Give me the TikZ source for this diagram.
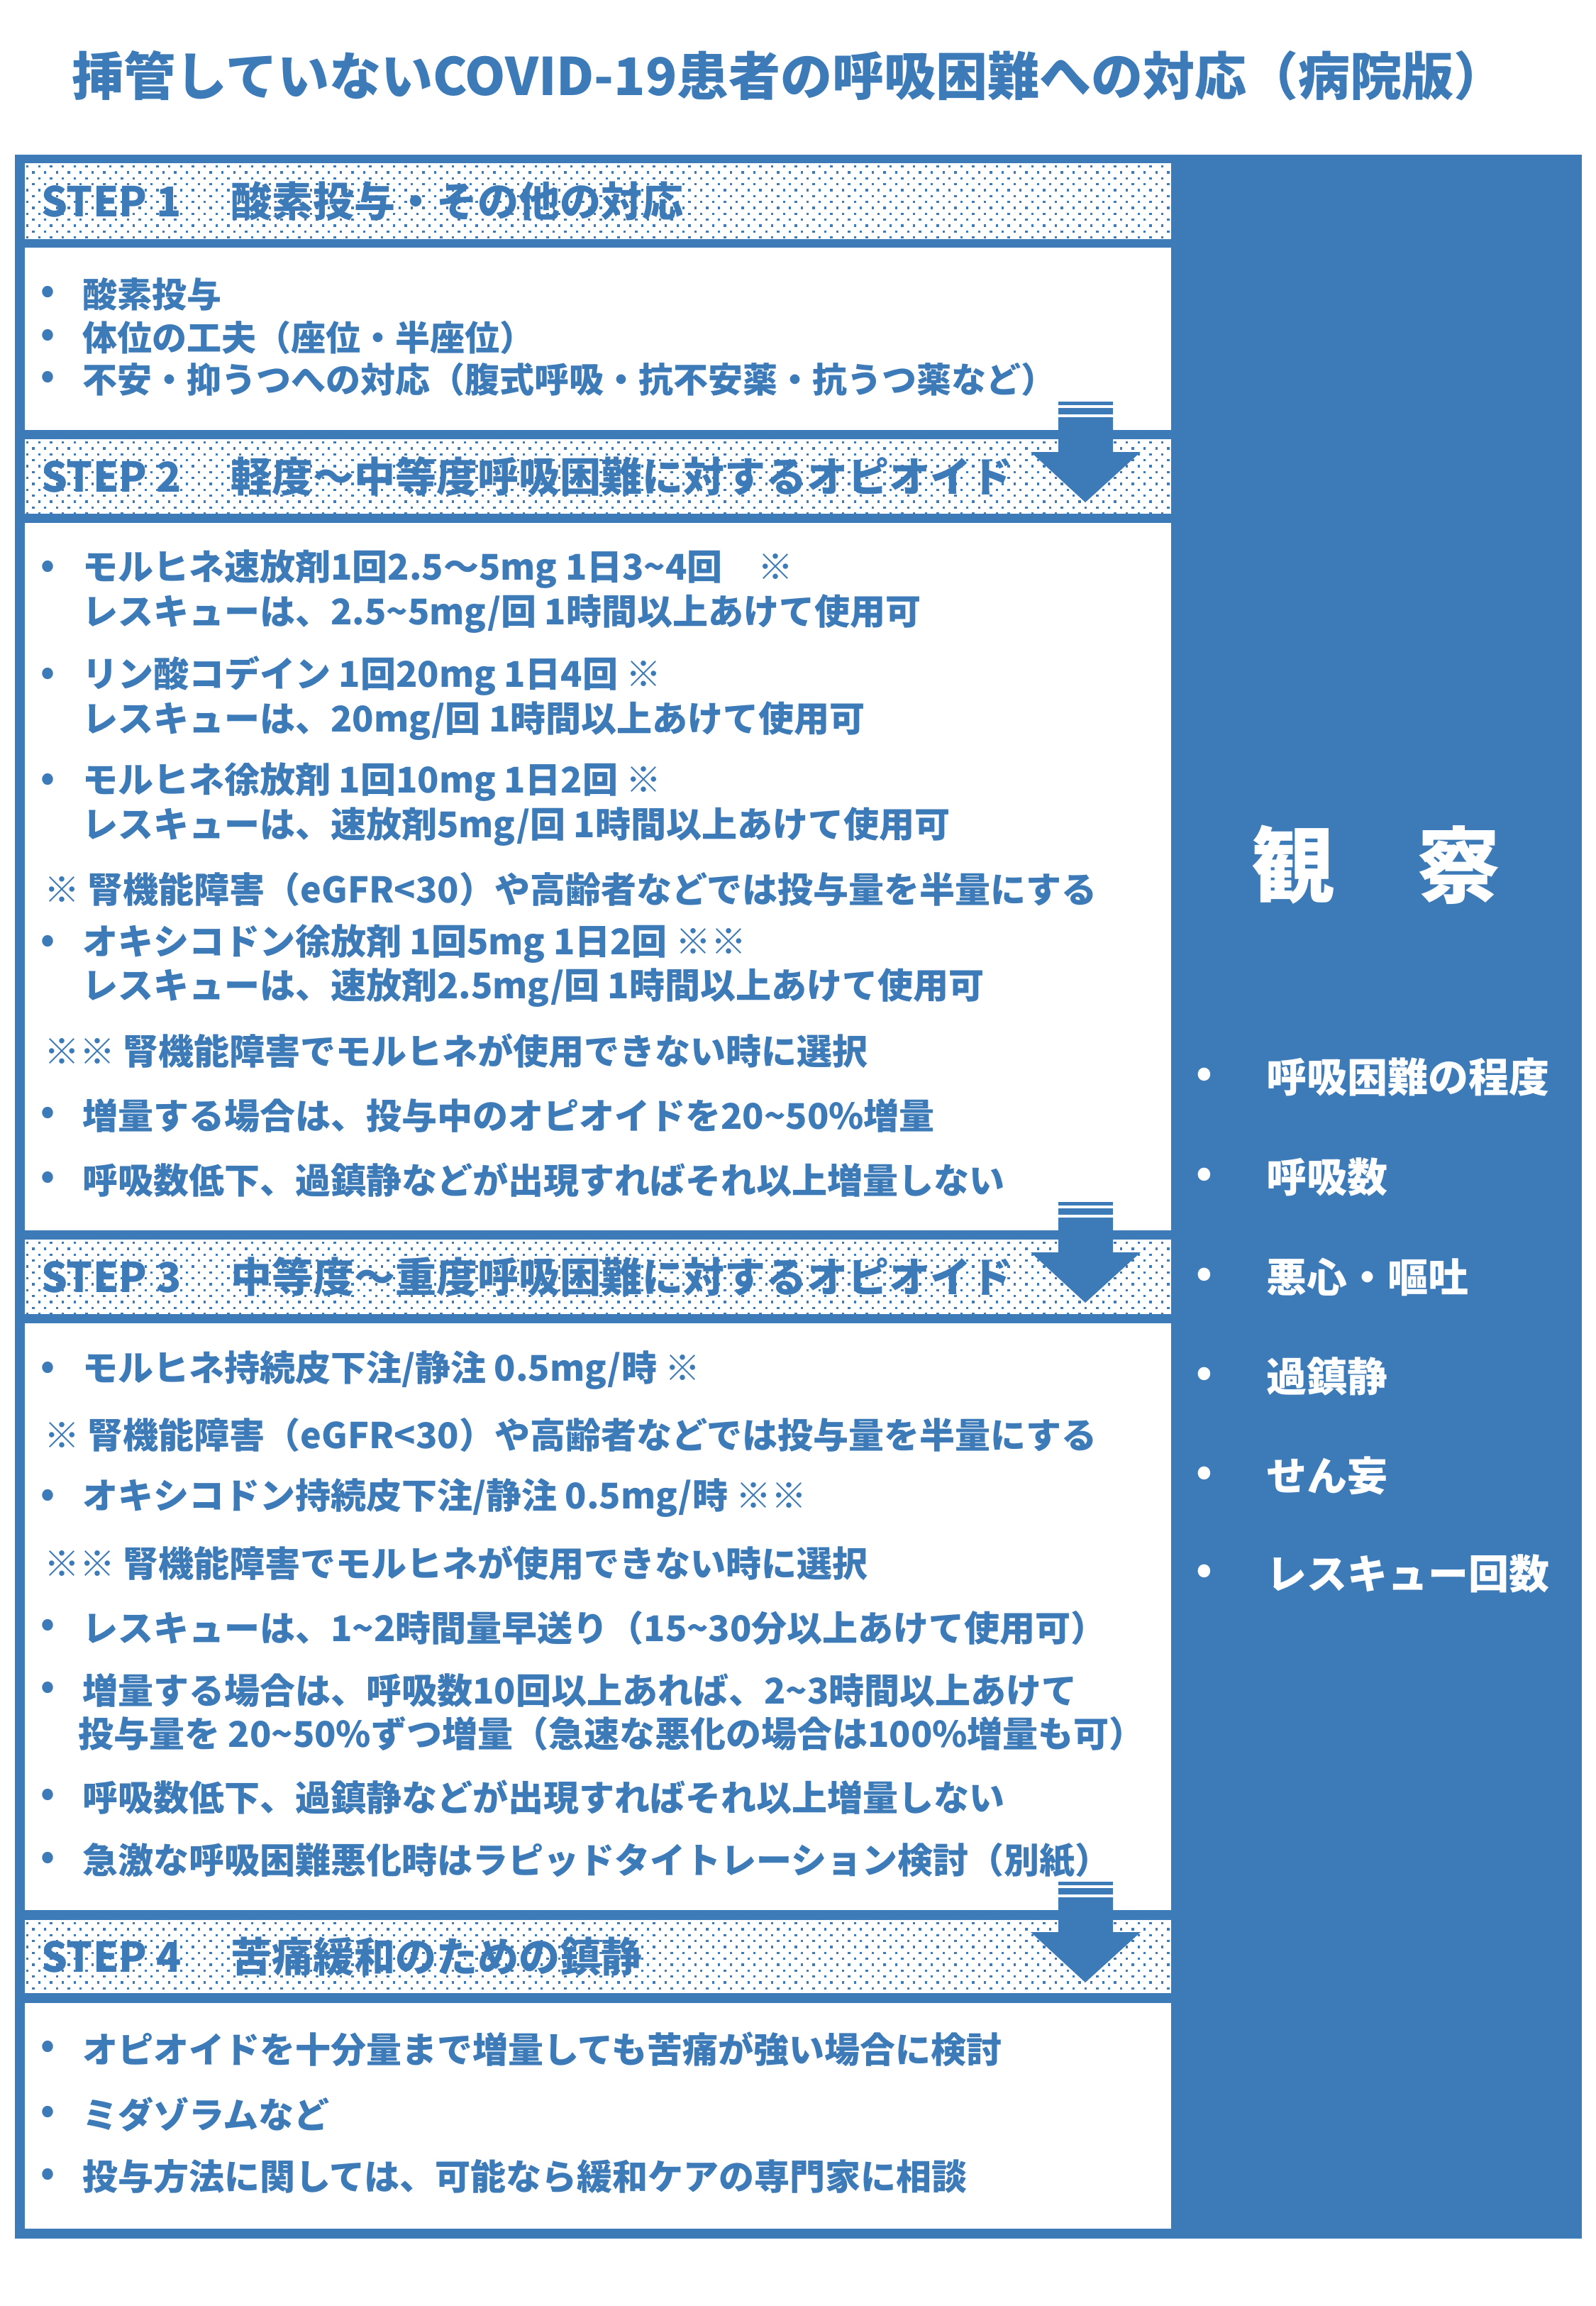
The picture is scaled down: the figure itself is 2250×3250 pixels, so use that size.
\documentclass[tikz,border=0pt]{standalone}
\usepackage{fontspec}
\setmainfont{Noto Sans CJK JP}
\definecolor{bl}{HTML}{3D7AB8}
\newcommand\tld{\char"007E\relax}
\newcommand\dotfield[2]{%
  \begin{scope}
    \clip (35,#1) rectangle (1651,#2);
    \foreach \r in {0,...,13} {
      \pgfmathsetmacro\yy{#1+3+\r*8.333}
      \pgfmathsetmacro\xo{mod(\r,2)*8.333}
      \foreach \c in {0,...,97} {
        \fill[bl] ({37+\xo+\c*16.667},\yy) rectangle ++(3.4,3.4);
      }
    }
  \end{scope}}
\newcommand\steparrow[1]{%
  \fill[bl] (1492,#1-40) rectangle (1569,#1-35);
  \fill[bl] (1492,#1-31) rectangle (1569,#1-22);
  \fill[bl] (1492,#1-18) -- (1569,#1-18) -- (1569,#1+31) -- (1608,#1+31)
     -- (1530,#1+102) -- (1453,#1+31) -- (1492,#1+31) -- cycle;}
\begin{document}
\begin{tikzpicture}[x=1pt,y=-1pt,
  ttl/.style={inner sep=0, text=bl, font=\fontsize{73}{73}\selectfont\bfseries},
  hd/.style={anchor=west, inner sep=0, text=bl, font=\fontsize{58}{58}\selectfont\bfseries},
  tx/.style={anchor=west, inner sep=0, text=bl, font=\fontsize{50}{50}\selectfont\bfseries},
  txa/.style={anchor=west, inner sep=0, text=bl, font=\fontsize{49}{49}\selectfont\bfseries},
  bu/.style={inner sep=0, text=bl, font=\fontsize{50}{50}\selectfont\bfseries},
  obs/.style={inner sep=0, text=white, font=\fontsize{117}{117}\selectfont\bfseries},
  obt/.style={anchor=west, inner sep=0, text=white, font=\fontsize{57}{57}\selectfont\bfseries},
  obb/.style={inner sep=0, text=white, font=\fontsize{57}{57}\selectfont\bfseries}]
\useasboundingbox (0,0) rectangle (2250,3250);
\fill[white] (0,0) rectangle (2250,3250);

% title
\node[ttl] (title) at (1112,107) {挿管していないCOVID-19患者の呼吸困難への対応（病院版）};

% frame
\fill[bl] (21,218) rectangle (2230,3155);
\fill[white] (35,230) rectangle (1651,337);
\fill[white] (35,349) rectangle (1651,606);
\fill[white] (35,619) rectangle (1651,724);
\fill[white] (35,737) rectangle (1651,1734);
\fill[white] (35,1747) rectangle (1651,1852);
\fill[white] (35,1865) rectangle (1651,2692);
\fill[white] (35,2706) rectangle (1651,2809);
\fill[white] (35,2823) rectangle (1651,3141);

\dotfield{230}{337}
\dotfield{619}{724}
\dotfield{1747}{1852}
\dotfield{2706}{2809}

\steparrow{606}
\steparrow{1734}
\steparrow{2692}

% STEP 1
\node[hd] (h1a) at (58,283.5) {STEP 1};
\node[hd] (h1b) at (325,283.5) {酸素投与・その他の対応};
\node[bu] (b1a) at (67,415) {•};
\node[txa] (t1a) at (116,415) {酸素投与};
\node[bu] (b1b) at (67,476) {•};
\node[txa] (t1b) at (116,476) {体位の工夫（座位・半座位）};
\node[bu] (b1c) at (67,535) {•};
\node[txa] (t1c) at (116,535) {不安・抑うつへの対応（腹式呼吸・抗不安薬・抗うつ薬など）};

% STEP 2
\node[hd] (h2a) at (58,671.5) {STEP 2};
\node[hd] (h2b) at (325,671.5) {軽度～中等度呼吸困難に対するオピオイド};
\node[bu] (b2a) at (67,802) {•};
\node[tx] (t2a) at (116,802) {モルヒネ速放剤1回2.5～5mg 1日3\tld4回　※};
\node[tx] (t2b) at (116,865) {レスキューは、2.5\tld5mg/回 1時間以上あけて使用可};
\node[bu] (b2c) at (67,953) {•};
\node[tx] (t2c) at (116,953) {リン酸コデイン 1回20mg 1日4回 ※};
\node[tx] (t2d) at (116,1016) {レスキューは、20mg/回 1時間以上あけて使用可};
\node[bu] (b2e) at (67,1102) {•};
\node[tx] (t2e) at (116,1102) {モルヒネ徐放剤 1回10mg 1日2回 ※};
\node[tx] (t2f) at (116,1165) {レスキューは、速放剤5mg/回 1時間以上あけて使用可};
\node[tx] (t2g) at (62,1253) {※ 腎機能障害（eGFR<30）や高齢者などでは投与量を半量にする};
\node[bu] (b2h) at (67,1330) {•};
\node[tx] (t2h) at (116,1330) {オキシコドン徐放剤 1回5mg 1日2回 ※※};
\node[tx] (t2i) at (116,1392) {レスキューは、速放剤2.5mg/回 1時間以上あけて使用可};
\node[tx] (t2j) at (62,1481) {※※ 腎機能障害でモルヒネが使用できない時に選択};
\node[bu] (b2k) at (67,1572) {•};
\node[tx] (t2k) at (116,1572) {増量する場合は、投与中のオピオイドを20\tld50\%増量};
\node[bu] (b2l) at (67,1663) {•};
\node[tx] (t2l) at (116,1663) {呼吸数低下、過鎮静などが出現すればそれ以上増量しない};

% STEP 3
\node[hd] (h3a) at (58,1799.5) {STEP 3};
\node[hd] (h3b) at (325,1799.5) {中等度～重度呼吸困難に対するオピオイド};
\node[bu] (b3a) at (67,1931) {•};
\node[tx] (t3a) at (116,1931) {モルヒネ持続皮下注/静注 0.5mg/時 ※};
\node[tx] (t3b) at (62,2022) {※ 腎機能障害（eGFR<30）や高齢者などでは投与量を半量にする};
\node[bu] (b3c) at (67,2111) {•};
\node[tx] (t3c) at (116,2111) {オキシコドン持続皮下注/静注 0.5mg/時 ※※};
\node[tx] (t3d) at (62,2203) {※※ 腎機能障害でモルヒネが使用できない時に選択};
\node[bu] (b3e) at (67,2294) {•};
\node[tx] (t3e) at (116,2294) {レスキューは、1\tld2時間量早送り（15\tld30分以上あけて使用可）};
\node[bu] (b3f) at (67,2382) {•};
\node[tx] (t3f) at (116,2382) {増量する場合は、呼吸数10回以上あれば、2\tld3時間以上あけて};
\node[tx] (t3g) at (110,2443) {投与量を 20\tld50\%ずつ増量（急速な悪化の場合は100\%増量も可）};
\node[bu] (b3h) at (67,2533) {•};
\node[tx] (t3h) at (116,2533) {呼吸数低下、過鎮静などが出現すればそれ以上増量しない};
\node[bu] (b3i) at (67,2622) {•};
\node[tx] (t3i) at (116,2622) {急激な呼吸困難悪化時はラピッドタイトレーション検討（別紙）};

% STEP 4
\node[hd] (h4a) at (58,2757.5) {STEP 4};
\node[hd] (h4b) at (325,2757.5) {苦痛緩和のための鎮静};
\node[bu] (b4a) at (67,2888) {•};
\node[tx] (t4a) at (116,2888) {オピオイドを十分量まで増量しても苦痛が強い場合に検討};
\node[bu] (b4b) at (67,2980) {•};
\node[tx] (t4b) at (116,2980) {ミダゾラムなど};
\node[bu] (b4c) at (67,3068) {•};
\node[tx] (t4c) at (116,3068) {投与方法に関しては、可能なら緩和ケアの専門家に相談};

% observation panel
\node[obs] (obs) at (1940,1219) {観　察};
\node[obb] (ob1) at (1698,1518) {•};
\node[obt] (o1) at (1785,1518) {呼吸困難の程度};
\node[obb] (ob2) at (1698,1659) {•};
\node[obt] (o2) at (1785,1659) {呼吸数};
\node[obb] (ob3) at (1698,1800) {•};
\node[obt] (o3) at (1785,1800) {悪心・嘔吐};
\node[obb] (ob4) at (1698,1940) {•};
\node[obt] (o4) at (1785,1940) {過鎮静};
\node[obb] (ob5) at (1698,2080) {•};
\node[obt] (o5) at (1785,2080) {せん妄};
\node[obb] (ob6) at (1698,2218) {•};
\node[obt] (o6) at (1785,2218) {レスキュー回数};
\end{tikzpicture}
\end{document}
